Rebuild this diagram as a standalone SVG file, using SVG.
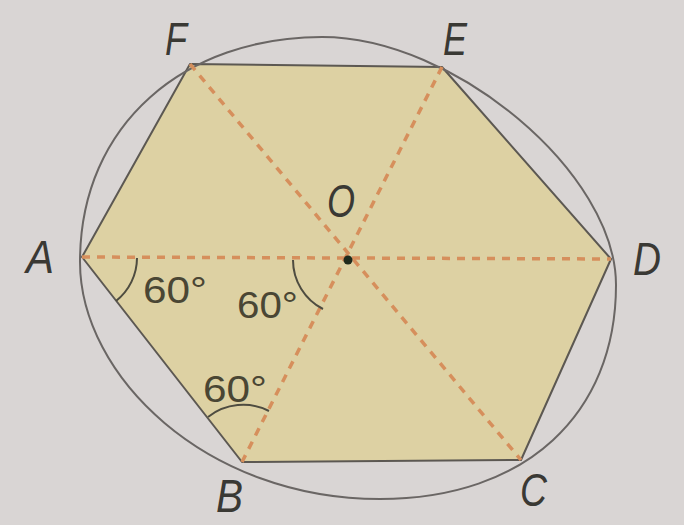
<svg xmlns="http://www.w3.org/2000/svg" width="684" height="525" viewBox="0 0 684 525">
<style>
.edge{fill:#ddd1a3;stroke:#5c5852;stroke-width:2;stroke-linejoin:round}
.circ{fill:none;stroke:#6a6664;stroke-width:2}
.dash{stroke:#d68f5c;stroke-width:3.5;stroke-dasharray:8 7;fill:none}
.arc{fill:none;stroke:#4e4c40;stroke-width:2}
.lbl{font-family:"Liberation Sans",Arial,sans-serif;font-style:italic;font-size:47px;fill:#3a3934}
.ang{font-family:"Liberation Sans",Arial,sans-serif;font-size:36px;fill:#4a4634}
</style>
<rect width="684" height="525" fill="#d9d5d4"/>
<g id="hexagon">
<polygon class="edge" points="190,64 442,67 611,259 521,460 242,462 82,257"/>
</g>
<g id="circle">
<path class="circ" d="M322,37 C454,37 616,173 616,285 C616,413.4 526.3,499 380,499 C206,499 80,375.8 80,262 C80,122.5 186.5,37 322,37 Z"/>
</g>
<g id="connectors">
<line class="dash" x1="82" y1="257" x2="611" y2="259"/>
<line class="dash" x1="190" y1="64" x2="521" y2="460"/>
<line class="dash" x1="442" y1="67" x2="242" y2="462"/>
</g>
<g id="O">
<circle cx="348" cy="260" r="4.5" fill="#1f2a1c"/>
<text class="lbl" x="327" y="217" textLength="28" lengthAdjust="spacingAndGlyphs">O</text>
</g>
<g id="angles">
<path class="arc" d="M137,258 A55,55 0 0 1 116,301"/>
<path class="arc" d="M293,260 A55,55 0 0 0 323,309"/>
<path class="arc" d="M208,417 A57,57 0 0 1 269,411"/>
<text class="ang" x="143" y="303" textLength="64" lengthAdjust="spacingAndGlyphs">60°</text>
<text class="ang" x="237" y="318" textLength="61" lengthAdjust="spacingAndGlyphs">60°</text>
<text class="ang" x="203" y="402" textLength="64" lengthAdjust="spacingAndGlyphs">60°</text>
</g>
<g id="labels">
<text class="lbl" x="165" y="55" textLength="22" lengthAdjust="spacingAndGlyphs">F</text>
<text class="lbl" x="443" y="55" textLength="24" lengthAdjust="spacingAndGlyphs">E</text>
<text class="lbl" x="633" y="275" textLength="28" lengthAdjust="spacingAndGlyphs">D</text>
<text class="lbl" x="26" y="273" textLength="28" lengthAdjust="spacingAndGlyphs">A</text>
<text class="lbl" x="216" y="512" textLength="27" lengthAdjust="spacingAndGlyphs">B</text>
<text class="lbl" x="520" y="506" textLength="27" lengthAdjust="spacingAndGlyphs">C</text>
</g>
</svg>
